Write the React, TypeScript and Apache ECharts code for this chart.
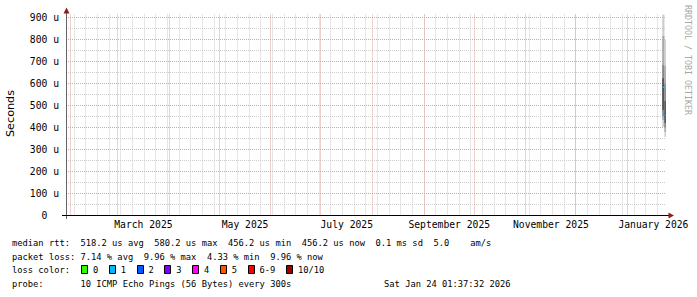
import React, { useEffect, useRef } from "react";
import * as echarts from "echarts";

const W = 697;
const H = 297;

// ---- time range (UTC) ----
const rangeStart = "2025-01-29T01:37:32Z";
const rangeEnd = "2026-01-24T01:37:32Z";

// ---- grid / tick data ----
const monthStarts = [
  "2025-02-01", "2025-03-01", "2025-04-01", "2025-05-01", "2025-06-01", "2025-07-01",
  "2025-08-01", "2025-09-01", "2025-10-01", "2025-11-01", "2025-12-01", "2026-01-01", "2026-02-01",
];
const labelMonths = ["2025-03-01", "2025-05-01", "2025-07-01", "2025-09-01", "2025-11-01", "2026-01-01"];
const labelTexts = ["March 2025", "May 2025", "July 2025", "September 2025", "November 2025", "January 2026"];
const firstMonday = "2025-02-03";

// ---- series data (microseconds) ----
const slotStarts = ["2026-01-21T20:00:00Z", "2026-01-23T03:00:00Z"];
const slotEnds = ["2026-01-23T03:00:00Z", "2026-01-24T00:00:00Z"];
const pingsSlotA = [403, 434, 452, 480, 576, 590, 624, 684, 816, 913];
const pingsSlotB = [357, 380, 400, 420, 450, 462, 520, 600, 680, 800];
const lossPerSlot = [1, 1];

// ---- legend ----
const lossLabels = ["0", "1", "2", "3", "4", "5", "6-9", "10/10"];
const lossColors = ["#26ff00", "#00b8ff", "#0059ff", "#7e00ff", "#ff00ff", "#ff5500", "#ff0000", "#a10000"];
const smokeShades = ["#cccccc", "#aaaaaa", "#888888", "#555555", "#333333"];

const statsLine1 = "median rtt:  518.2 us avg  580.2 us max  456.2 us min  456.2 us now  0.1 ms sd  5.0    am/s";
const statsLine2 = "packet loss: 7.14 % avg  9.96 % max  4.33 % min  9.96 % now";
const lossTitle = "loss color:";
const probeLine = "probe:       10 ICMP Echo Pings (56 Bytes) every 300s";
const dateText = "Sat Jan 24 01:37:32 2026";
const yTitle = "Seconds";
const watermark = "RRDTOOL / TOBI OETIKER";

// ---- layout constants ----
const GL = 66;
const GT = 17.5;
const GW = 600;
const GH = 198;
const YMAX = 900;
const YTOP_GRID = 918;
const MONO = '"DejaVu Sans Mono", monospace';
const LEG_FS = 8.75;
const CW = LEG_FS * 0.602;
const LX = 12;
const AX_FS = 9.7;

const nb = (s: string) => s.replace(/ /g, "\u00a0");
const ts = (s: string) => Date.parse(s.length === 10 ? s + "T00:00:00Z" : s);

function lossIndex(l: number) {
  if (l <= 5) return l;
  if (l < 10) return 6;
  return 7;
}

export default function App() {
  const ref = useRef<HTMLDivElement>(null);
  useEffect(() => {
    const el = ref.current!;
    const chart = echarts.init(el, undefined, { renderer: "svg", width: W, height: H });
    const T0 = ts(rangeStart);
    const T1 = ts(rangeEnd);

    const weekLines: number[][] = [];
    for (let t = ts(firstMonday); t < T1; t += 7 * 86400000) weekLines.push([t, 0]);
    const monthLines = monthStarts.map(ts).filter((t) => t > T0 && t < T1).map((t) => [t, 0]);
    const labelData = labelMonths.map((m, i) => {
      const idx = monthStarts.indexOf(m);
      const a = ts(monthStarts[idx]);
      const b = ts(monthStarts[idx + 1]);
      return [(a + b) / 2, 0, i];
    });
    const smokeRows = [
      [ts(slotStarts[0]), ts(slotEnds[0]), ...pingsSlotA, lossPerSlot[0]],
      [ts(slotStarts[1]), ts(slotEnds[1]), ...pingsSlotB, lossPerSlot[1]],
    ];

    const vGrid = (color: string) => (params: any, api: any) => {
      const t = api.value(0);
      const p0 = api.coord([t, 0]);
      const p1 = api.coord([t, YTOP_GRID]);
      const x = Math.floor(p0[0]) + 0.5;
      return {
        type: "line",
        shape: { x1: x, y1: p0[1], x2: x, y2: p1[1] },
        style: { stroke: color, lineWidth: 1, lineDash: [1, 1] },
        silent: true,
      };
    };

    // legend graphics
    const legend: any[] = [];
    const textEl = (text: string, x: number, y: number, extra: any = {}) => ({
      type: "text",
      x,
      y,
      silent: true,
      style: { text: nb(text), font: `${LEG_FS}px ${MONO}`, fill: "#000", verticalAlign: "middle", ...extra },
    });
    const rowY = [242.5, 256.5, 270.2, 284.2];
    legend.push(textEl(statsLine1, LX, rowY[0]));
    legend.push(textEl(statsLine2, LX, rowY[1]));
    legend.push(textEl(lossTitle, LX, rowY[2]));
    let bx = LX + 13 * CW + 0.5;
    lossLabels.forEach((lab, i) => {
      legend.push({
        type: "rect",
        silent: true,
        shape: { x: Math.round(bx) + 0.5, y: 265.5, width: 6, height: 8 },
        style: { fill: lossColors[i], stroke: "#000", lineWidth: 1 },
      });
      const lx = bx + 12;
      legend.push(textEl(lab, lx, rowY[2]));
      bx = lx + lab.length * CW + 10.5;
    });
    legend.push(textEl(probeLine, LX, rowY[3]));
    legend.push(textEl(dateText, 510.5, rowY[3], { align: "right" }));

    const axisX = GL + 0.5;
    const axisY = GT + GH;
    const decorations: any[] = [
      { type: "line", silent: true, z: 10, shape: { x1: axisX, y1: axisY + 3.5, x2: axisX, y2: 12 }, style: { stroke: "#666", lineWidth: 1 } },
      { type: "line", silent: true, z: 10, shape: { x1: 62, y1: axisY, x2: 670, y2: axisY }, style: { stroke: "#000", lineWidth: 1 } },
      { type: "polygon", silent: true, z: 11, shape: { points: [[axisX - 3, 13.5], [axisX, 7.5], [axisX + 3, 13.5]] }, style: { fill: "#8e1f1f" } },
      { type: "polygon", silent: true, z: 11, shape: { points: [[668.5, axisY - 3], [674, axisY], [668.5, axisY + 3]] }, style: { fill: "#8e1f1f" } },
      {
        type: "text", silent: true, x: 10.5, y: 113.5, rotation: Math.PI / 2,
        style: { text: yTitle, font: '11.2px "DejaVu Sans", sans-serif', fill: "#000", align: "center", verticalAlign: "middle" },
      },
      {
        type: "text", silent: true, x: 687.5, y: 60, rotation: -Math.PI / 2,
        style: { text: nb(watermark), font: `8.3px ${MONO}`, fill: "#a8a8a8", align: "center", verticalAlign: "middle" },
      },
    ];

    const option: any = {
      animation: false,
      backgroundColor: "#fff",
      grid: { left: GL, top: GT, width: GW, height: GH, containLabel: false },
      xAxis: { type: "value", min: T0, max: T1, show: false },
      yAxis: {
        type: "value",
        min: 0,
        max: YMAX,
        interval: 100,
        axisLine: { show: false },
        axisTick: { show: false },
        axisLabel: {
          margin: 7,
          fontFamily: MONO,
          fontSize: AX_FS,
          color: "#000",
          formatter: (v: number) => (v === 0 ? "0\u00a0\u00a0" : `${v}\u00a0u`),
        },
        splitLine: { show: true, lineStyle: { color: "#e3a0a0", width: 1, type: [1, 1] } },
        minorTick: { show: false, splitNumber: 2 },
        minorSplitLine: { show: true, lineStyle: { color: "#cdcdcd", width: 1, type: [1, 1] } },
      },
      series: [
        { type: "custom", clip: false, z: 1, silent: true, data: weekLines, encode: { x: 0, y: 1 }, renderItem: vGrid("#cdcdcd") },
        { type: "custom", clip: false, z: 2, silent: true, data: monthLines, encode: { x: 0, y: 1 }, renderItem: vGrid("#e3a0a0") },
        {
          type: "custom", clip: false, z: 3, silent: true, data: labelData, encode: { x: 0, y: 1 },
          renderItem: (params: any, api: any) => {
            const p = api.coord([api.value(0), 0]);
            return {
              type: "text", x: p[0], y: p[1] + 9.2,
              style: { text: labelTexts[api.value(2)], font: `${AX_FS}px ${MONO}`, fill: "#000", align: "center", verticalAlign: "middle" },
            };
          },
        },
        {
          type: "custom", clip: false, z: 4, silent: true, data: smokeRows,
          encode: { x: [0, 1], y: [2, 3, 4, 5, 6, 7, 8, 9, 10, 11] },
          renderItem: (params: any, api: any) => {
            const t0 = api.value(0);
            const t1 = api.value(1);
            const p: number[] = [];
            for (let k = 0; k < 10; k++) p.push(api.value(2 + k));
            const loss = api.value(12);
            const children: any[] = [];
            for (let i = 0; i < 5; i++) {
              const a = api.coord([t0, p[9 - i]]);
              const b = api.coord([t1, p[i]]);
              children.push({
                type: "rect",
                shape: { x: a[0], y: a[1], width: b[0] - a[0], height: b[1] - a[1] },
                style: { fill: smokeShades[i] },
              });
            }
            const med = (p[4] + p[5]) / 2;
            const m0 = api.coord([t0, med]);
            const m1 = api.coord([t1, med]);
            children.push({
              type: "rect",
              shape: { x: m0[0], y: m0[1] - 1, width: m1[0] - m0[0], height: 2 },
              style: { fill: lossColors[lossIndex(loss)] },
            });
            return { type: "group", children };
          },
        },
      ],
      graphic: [...decorations, ...legend],
    };
    chart.setOption(option);
    return () => chart.dispose();
  }, []);
  return <div ref={ref} style={{ position: "fixed", left: 0, top: 0, width: W, height: H, background: "#fff" }} />;
}
